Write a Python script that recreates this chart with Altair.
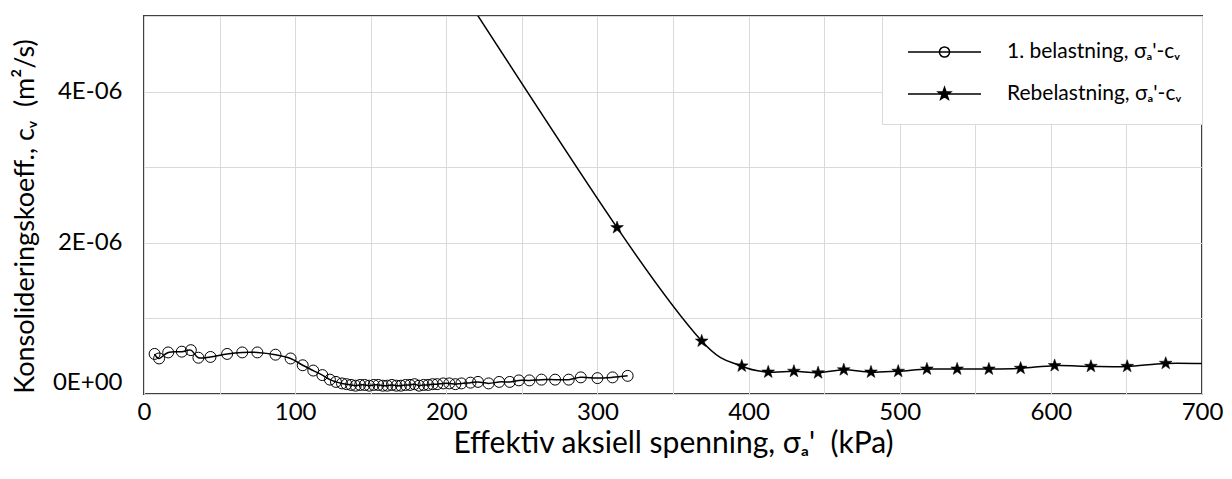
import math
import altair as alt
import pandas as pd

# ---- data ------------------------------------------------------------
# 1. belastning (first loading): effective axial stress (kPa), cv (1E-06 m2/s)
load_x = [7, 10, 16, 25, 31, 36, 44, 55, 65, 75,
          87, 97, 105, 112, 118, 123, 127, 131, 134, 137,
          140, 143, 146, 149, 152, 155, 158, 161, 164, 167,
          170, 173, 176, 179, 182, 185, 188, 191, 194, 198,
          202, 206, 210, 216, 221, 228, 235, 242, 248, 255,
          263, 272, 281, 289, 300, 310, 320]
load_cv = [0.53, 0.47, 0.55, 0.56, 0.58, 0.48, 0.49, 0.53, 0.55, 0.55,
           0.52, 0.47, 0.38, 0.31, 0.25, 0.19, 0.16, 0.14, 0.13, 0.12,
           0.11, 0.12, 0.12, 0.11, 0.12, 0.12, 0.11, 0.11, 0.12, 0.11,
           0.11, 0.12, 0.12, 0.13, 0.11, 0.12, 0.12, 0.13, 0.13, 0.14,
           0.14, 0.13, 0.14, 0.15, 0.16, 0.14, 0.16, 0.16, 0.18, 0.18,
           0.19, 0.19, 0.19, 0.22, 0.21, 0.22, 0.24]

# Rebelastning (reloading)
reload_x = [200, 313, 369, 395.5, 413, 430, 446, 463, 481, 499,
            518, 538, 559, 580, 602.5, 626.5, 650.5, 676, 705]
reload_cv = [5.65, 2.2, 0.70, 0.37, 0.29, 0.30, 0.28, 0.32, 0.29, 0.30,
             0.33, 0.33, 0.33, 0.34, 0.375, 0.365, 0.365, 0.405, 0.40]

series_names = ["1. belastning, σₐ'-cᵥ", "Rebelastning, σₐ'-cᵥ"]

x_ticks = list(range(0, 701, 50))
y_ticks = [i * 1e-6 for i in range(6)]

x_title = "Effektiv aksiell spenning, σₐ'\u00a0 (kPa)"
y_title = "Konsolideringskoeff., cᵥ\u00a0 (m²/s)"

# ---- frames ----------------------------------------------------------
load_df = pd.DataFrame({"x": load_x, "cv": [v * 1e-6 for v in load_cv]})
reload_df = pd.DataFrame({"x": reload_x, "cv": [v * 1e-6 for v in reload_cv]})
legend_df = pd.DataFrame({"series": series_names, "x": [-100, -100], "cv": [0, 0]})

# ---- symbol paths ----------------------------------------------------
def star_path(cx=0.0, r=1.0, inner=0.4):
    pts = []
    for k in range(10):
        ang = math.radians(-90 + 36 * k)
        rr = r if k % 2 == 0 else r * inner
        pts.append((cx + rr * math.cos(ang), rr * math.sin(ang)))
    return "M" + "L".join(f"{px:.4f},{py:.4f}" for px, py in pts) + "Z"

def circle_path(cx, r):
    return (f"M{cx + r:.4f},0A{r},{r},0,1,1,{cx - r:.4f},0"
            f"A{r},{r},0,1,1,{cx + r:.4f},0Z")

# legend glyph: line with marker, in units of 15 px (symbolSize 900)
LINE = "M-0.667,0L4.2,0"
legend_circle = LINE + circle_path(1.767, 0.34)
legend_star = LINE + star_path(1.767, 0.43)

FONT = "Lato"
TICK_FS = 24
TITLE_FS_X = 30
TITLE_FS_Y = 27

x_enc = alt.X("x:Q", scale=alt.Scale(domain=[0, 700], nice=False, zero=False),
              axis=alt.Axis(values=x_ticks,
                            labelExpr="datum.value % 100 == 0 ? datum.label : ''",
                            title=x_title, grid=True, gridColor="#d9d9d9",
                            domain=False, ticks=False, tickSize=0,
                            labelFlush=False, labelFontSize=TICK_FS, labelPadding=6,
                            labelColor="black", titleColor="black",
                            titleFontSize=TITLE_FS_X, titleFontWeight="normal",
                            titleX=529, titleY=34, titleBaseline="top",
                            titleAlign="center", labelOverlap=False))
y_enc = alt.Y("cv:Q", scale=alt.Scale(domain=[0, 5e-6], nice=False),
              axis=alt.Axis(values=y_ticks,
                            labelExpr="round(datum.value*1e6) == 0 ? '0E+00' : "
                                      "(round(datum.value*1e6) % 2 == 0 ? "
                                      "round(datum.value*1e6) + 'E-06' : '')",
                            title=y_title, grid=True, gridColor="#d9d9d9",
                            domain=False, ticks=False, tickSize=0,
                            labelFlush=True, labelFontSize=TICK_FS, labelPadding=22,
                            labelColor="black", titleColor="black",
                            titleFontSize=TITLE_FS_Y, titleFontWeight="normal",
                            titleX=-119, titleY=200, titleAngle=270,
                            titleAlign="center", titleBaseline="middle",
                            labelOverlap=False))

load_line = alt.Chart(load_df).mark_line(
    color="black", strokeWidth=1.5, interpolate="cardinal", clip=True
).encode(x=x_enc, y=y_enc)
load_pts = alt.Chart(load_df).mark_point(
    shape="circle", size=120, filled=False, stroke="black", strokeWidth=1,
    opacity=1, clip=True
).encode(x="x:Q", y="cv:Q")

reload_line = alt.Chart(reload_df).mark_line(
    color="black", strokeWidth=1.5, interpolate="cardinal", clip=True
).encode(x="x:Q", y="cv:Q")
reload_pts = alt.Chart(reload_df).mark_point(
    shape=star_path(), size=180, filled=True, fill="black", stroke="black",
    strokeWidth=0.5, opacity=1, clip=True
).encode(x="x:Q", y="cv:Q")

leg = alt.Legend(orient="none", legendX=738, legendY=0, title=None,
                 padding=20, rowPadding=16, symbolSize=900, labelOffset=73,
                 strokeColor="#d9d9d9", fillColor="white", labelFontSize=21,
                 labelColor="black", labelLimit=500,
                 symbolStrokeWidth=1.5, cornerRadius=0)

legend_layer = alt.Chart(legend_df).mark_point(
    filled=False, strokeWidth=1.5, opacity=1, clip=True
).encode(
    x="x:Q", y="cv:Q",
    shape=alt.Shape("series:N", scale=alt.Scale(domain=series_names,
                                                range=[legend_circle, legend_star]),
                    legend=leg),
    fill=alt.Fill("series:N", scale=alt.Scale(domain=series_names,
                                              range=["transparent", "black"]),
                  legend=leg),
    stroke=alt.Stroke("series:N", scale=alt.Scale(domain=series_names,
                                                  range=["black", "black"]),
                      legend=leg),
)

chart = alt.layer(load_line, load_pts, reload_line, reload_pts, legend_layer).properties(
    width=1058, height=378,
    autosize=alt.AutoSizeParams(type="none"),
    padding={"left": 136, "top": 8, "right": 22, "bottom": 70},
    background="white",
).configure(font=FONT).configure_view(stroke="#404040", strokeWidth=2)

chart.save("out.html", embed_options={"renderer": "svg", "actions": False})
